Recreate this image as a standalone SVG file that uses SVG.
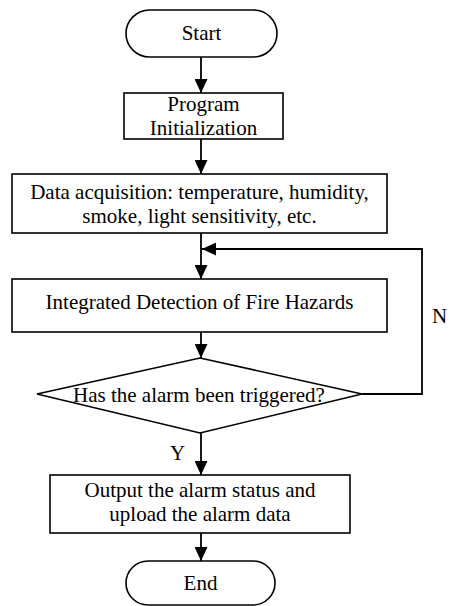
<svg xmlns="http://www.w3.org/2000/svg" width="451" height="606" viewBox="0 0 451 606">
<defs>
<style>
.box{fill:#fff;stroke:#000;stroke-width:1.6}
.ln{fill:none;stroke:#000;stroke-width:1.8}
text{font-family:"Liberation Serif","Times New Roman",serif;font-size:21px;fill:#000}
.c{text-anchor:middle}
</style>
<marker id="ah" viewBox="0 0 14 13" refX="14" refY="6.5" markerWidth="14" markerHeight="13" markerUnits="userSpaceOnUse" orient="auto">
<path d="M0,0 L14,6.5 L0,13 Z" fill="#000"/>
</marker>
</defs>
<rect width="451" height="606" fill="#fff"/>
<g id="connectors">
<line class="ln" x1="201" y1="57" x2="201" y2="93" marker-end="url(#ah)"/>
<line class="ln" x1="201" y1="139" x2="201" y2="174" marker-end="url(#ah)"/>
<line class="ln" x1="201" y1="233" x2="201" y2="279" marker-end="url(#ah)"/>
<polyline class="ln" points="362,394 422,394 422,249 202,249" marker-end="url(#ah)"/>
<line class="ln" x1="201" y1="332" x2="201" y2="358" marker-end="url(#ah)"/>
<line class="ln" x1="201" y1="433" x2="201" y2="475" marker-end="url(#ah)"/>
<line class="ln" x1="201" y1="533" x2="201" y2="561" marker-end="url(#ah)"/>
<text x="170" y="460">Y</text>
<text x="432" y="323">N</text>
</g>
<g id="start">
<rect class="box" x="126" y="10" width="151" height="47" rx="23.5"/>
<text class="c" x="201.5" y="40">Start</text>
</g>
<g id="init">
<rect class="box" x="124" y="93" width="159" height="46"/>
<text class="c" x="203.5" y="111">Program</text>
<text class="c" x="203.5" y="135">Initialization</text>
</g>
<g id="acquire">
<rect class="box" x="12" y="174" width="375" height="59"/>
<text class="c" x="199.5" y="199">Data acquisition: temperature, humidity,</text>
<text class="c" x="199.5" y="223">smoke, light sensitivity, etc.</text>
</g>
<g id="detect">
<rect class="box" x="12" y="279" width="375" height="53"/>
<text class="c" x="199.5" y="309">Integrated Detection of Fire Hazards</text>
</g>
<g id="decision">
<polygon class="box" points="200,358 362,394 200,433 37,394"/>
<text class="c" x="199" y="402">Has the alarm been triggered?</text>
</g>
<g id="output">
<rect class="box" x="50" y="475" width="300" height="58"/>
<text class="c" x="200" y="497">Output the alarm status and</text>
<text class="c" x="200" y="521">upload the alarm data</text>
</g>
<g id="end">
<rect class="box" x="126" y="561" width="149" height="44" rx="22"/>
<text class="c" x="200.5" y="590">End</text>
</g>
</svg>
